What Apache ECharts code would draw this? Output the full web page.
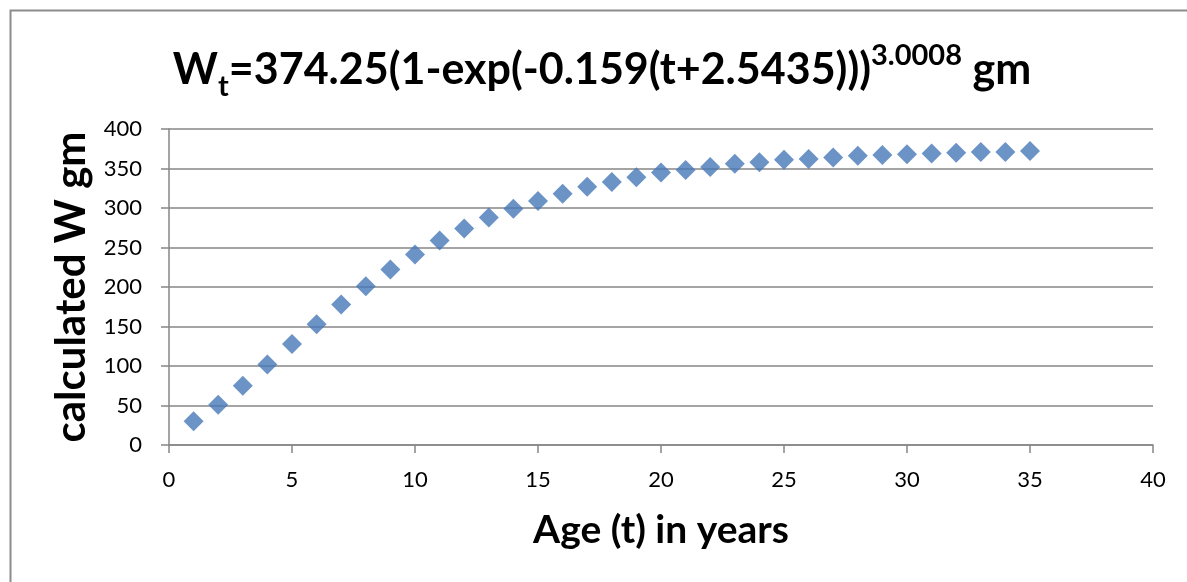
<!DOCTYPE html>
<html>
<head>
<meta charset="utf-8">
<script src="https://cdn.jsdelivr.net/npm/echarts@6/dist/echarts.min.js"></script>
<style>
html,body{margin:0;padding:0;background:#fff;}
#chart{width:1187px;height:582px;}
</style>
</head>
<body>
<div id="chart"></div>
<script>
const ages = [1,2,3,4,5,6,7,8,9,10,11,12,13,14,15,16,17,18,19,20,21,22,23,24,25,26,27,28,29,30,31,32,33,34,35];
const weights = [30,51,75,102,128,153,178,201,222,241,259,274,288,299,309,318,327,333,339,345,348,352,356,358,361,362,364,366,367,368,369,370,371,371,372];
const xTicks = [0,5,10,15,20,25,30,35,40];
const yTicks = [0,50,100,150,200,250,300,350,400];
// title pieces: [text, kind] kind: m = main, sub = subscript, sup = superscript
const titleParts = [['W','m'],['t','sub'],['=374.25(1-exp(-0.159(t+2.5435)))','m'],['3.0008','sup'],[' gm','m']];

const FONT = 'Lato';
const fontFor = {
  m: 'bold 43px ' + FONT,
  sub: 'bold 29px ' + FONT,
  sup: 'bold 29px ' + FONT
};
const baselineFor = {m: 84, sub: 96, sup: 65};

const cv = document.createElement('canvas').getContext('2d');
function width(t, f){ cv.font = f; return cv.measureText(t).width; }
function midOffset(f){ cv.font = f; cv.textBaseline = 'middle'; return cv.measureText('H').actualBoundingBoxDescent; }

const total = titleParts.reduce((s, p) => s + width(p[0], fontFor[p[1]]), 0);
let cx = 602 - total / 2;
const titleEls = titleParts.map(p => {
  const f = fontFor[p[1]];
  const el = {
    type: 'text', silent: true,
    x: cx, y: baselineFor[p[1]] - midOffset(f),
    style: {text: p[0], font: f, fill: '#000', align: 'left', verticalAlign: 'middle'}
  };
  cx += width(p[0], f);
  return el;
});

const chart = echarts.init(document.getElementById('chart'));
const option = {
  backgroundColor: '#fff',
  animation: false,
  graphic: [{
    type: 'rect',
    shape: {x: 10.5, y: 10.5, width: 1300, height: 700},
    style: {fill: 'none', stroke: '#8c8c8c', lineWidth: 2},
    silent: true
  }].concat(titleEls),
  grid: {left: 169, right: 34, top: 129, bottom: 137, containLabel: false},
  xAxis: {
    type: 'value',
    min: xTicks[0], max: xTicks[xTicks.length - 1], interval: xTicks[1] - xTicks[0],
    name: 'Age (t) in years',
    nameLocation: 'middle',
    nameGap: 66,
    nameTextStyle: {fontFamily: FONT, fontWeight: 'bold', fontSize: 39, color: '#000'},
    axisLine: {lineStyle: {color: '#868686', width: 1.5}},
    axisTick: {show: true, length: 8, lineStyle: {color: '#868686', width: 1.5}},
    axisLabel: {fontFamily: FONT, fontSize: 22, color: '#000', margin: 24},
    splitLine: {show: false}
  },
  yAxis: {
    type: 'value',
    min: yTicks[0], max: yTicks[yTicks.length - 1], interval: yTicks[1] - yTicks[0],
    name: 'calculated W gm',
    nameLocation: 'middle',
    nameGap: 58,
    nameTextStyle: {fontFamily: FONT, fontWeight: 'bold', fontSize: 42, color: '#000'},
    axisLine: {show: true, lineStyle: {color: '#868686', width: 1.5}},
    axisTick: {show: true, length: 8, lineStyle: {color: '#868686', width: 1.5}},
    axisLabel: {fontFamily: FONT, fontSize: 22, color: '#000', margin: 27},
    splitLine: {show: true, lineStyle: {color: '#868686', width: 1.5}}
  },
  series: [{
    type: 'scatter',
    symbol: 'diamond',
    symbolSize: 20,
    itemStyle: {color: '#4678b8'},
    data: ages.map((a, i) => [a, weights[i]])
  }]
};
chart.setOption(option);
</script>
</body>
</html>
